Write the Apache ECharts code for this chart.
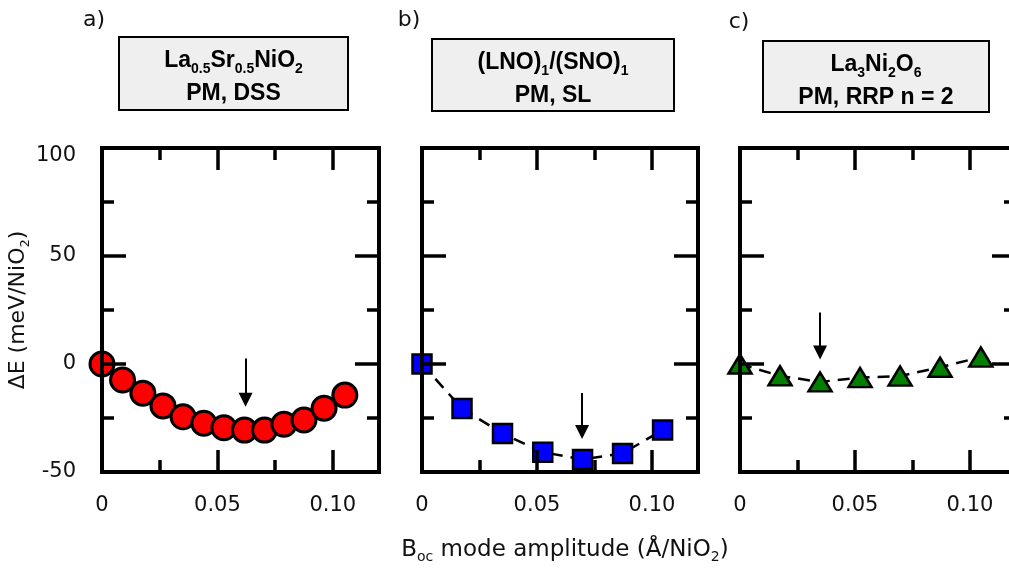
<!DOCTYPE html>
<html><head><meta charset="utf-8">
<script src="https://cdn.jsdelivr.net/npm/echarts@6/dist/echarts.min.js"></script>
<style>html,body{margin:0;padding:0;background:#fff}#c{width:1009px;height:568px}</style>
</head><body><div id="c"></div>
<script>
// ---- data ----
const ampA = [0, 0.0089, 0.0177, 0.0264, 0.0351, 0.0441, 0.0528, 0.0617, 0.0704, 0.0788, 0.0875, 0.0962, 0.1052];
const dEA  = [0, -7.4, -13.5, -19.4, -24.4, -27.4, -29.5, -30.6, -30.6, -27.9, -25.9, -20.5, -14.4];
const ampB = [0, 0.0174, 0.0350, 0.0525, 0.0698, 0.0872, 0.1046];
const dEB  = [0, -20.6, -32.2, -40.8, -44.2, -41.4, -30.6];
const ampC = [0, 0.0174, 0.0348, 0.0522, 0.0696, 0.0870, 0.1047];
const dEC  = [0, -5.5, -8.3, -6.3, -5.6, -1.5, 3.2];
const arrowX     = [0.0622, 0.0696, 0.0348];
const arrowStart = [2.5, -13.4, 23.9];
const arrowHead  = [-16.6, -31.5, 5.3];
const xTickMajor = [0, 0.05, 0.10];
const xTickMinor = [0.025, 0.075];
const yTickMajor = [-50, 0, 50, 100];
const yTickMinor = [-25, 25, 75];
const panelLetters = ['a)', 'b)', 'c)'];
const boxLine1 = ['{b|La}{s|0.5}{b|Sr}{s|0.5}{b|NiO}{s|2}', '{b|(LNO)}{s|1}{b|/(SNO)}{s|1}', '{b|La}{s|3}{b|Ni}{s|2}{b|O}{s|6}'];
const boxLine2 = ['PM, DSS', 'PM, SL', 'PM, RRP n = 2'];
const yName = '{a|ΔE (meV/NiO}{s|2}{a|)}';
const xName = '{a|B}{s|oc}{a| mode amplitude (Å/NiO}{s|2}{a|)}';

// ---- layout / style ----
const FONT = 'DejaVu Sans';
const BFONT = 'Liberation Sans';
const gridLeft = [102, 422, 740];
const gridWidth = [277, 276, 276];
const boxRect = [[119, 37, 229, 73], [432, 39, 242, 72], [763, 41, 226, 71]];
const letterPos = [[94, 20], [409, 20], [739, 22]];
const colors = ['#ff0000', '#0000ff', '#008000'];
const symbols = ['circle', 'rect', 'triangle'];
const symSizes = [24, 19, [23, 19]];
const ampList = [ampA, ampB, ampC];
const dEList = [dEA, dEB, dEC];

const xAxes = [], yAxes = [], grids = [], series = [];
function fmtX(v) { return v === 0 ? '0' : v.toFixed(2); }
function fmtY(v) { return v === 100 ? '{t|100}' : String(v); }
function mkX(gi, pos, ticks, len, main, labels) {
  return {
    type: 'value', gridIndex: gi, position: pos, min: 0, max: 0.12, interval: 0.05, z: 4,
    axisLine: { show: main, onZero: false, lineStyle: { color: '#000', width: 4, cap: 'square' } },
    axisTick: { show: true, inside: true, length: len, customValues: ticks, lineStyle: { color: '#000', width: 3.5 } },
    axisLabel: { show: labels, customValues: xTickMajor, formatter: fmtX, margin: 23, fontFamily: FONT, fontSize: 21, color: '#111' },
    splitLine: { show: false }
  };
}
function mkY(gi, pos, ticks, len, main, labels) {
  return {
    type: 'value', gridIndex: gi, position: pos, min: -50, max: 100, interval: 50, z: 4,
    axisLine: { show: main, onZero: false, lineStyle: { color: '#000', width: 4, cap: 'square' } },
    axisTick: { show: true, inside: true, length: len, customValues: ticks, lineStyle: { color: '#000', width: 3.5 } },
    axisLabel: { show: labels, customValues: yTickMajor, formatter: fmtY, margin: 26, fontFamily: FONT, fontSize: 21, color: '#111',
      rich: { t: { fontFamily: FONT, fontSize: 21, color: '#111', padding: [16, 0, 0, 0] } } },
    splitLine: { show: false }
  };
}
for (let g = 0; g < 3; g++) {
  grids.push({ left: gridLeft[g], width: gridWidth[g], top: 148, height: 324, show: false, containLabel: false, outerBoundsMode: 'none' });
  xAxes.push(mkX(g, 'bottom', xTickMajor, 22, true, true));
  xAxes.push(mkX(g, 'bottom', xTickMinor, 12, false, false));
  xAxes.push(mkX(g, 'top', xTickMajor, 22, true, false));
  xAxes.push(mkX(g, 'top', xTickMinor, 12, false, false));
  const yl = mkY(g, 'left', yTickMajor, 24, true, g === 0);
  if (g === 0) {
    yl.name = yName; yl.nameLocation = 'middle'; yl.nameGap = 53; yl.nameRotate = 90;
    yl.nameTextStyle = { color: '#111', rich: {
      a: { fontFamily: FONT, fontSize: 22, color: '#111', verticalAlign: 'middle', lineHeight: 28 },
      s: { fontFamily: FONT, fontSize: 13, color: '#111', verticalAlign: 'bottom', height: 14 } } };
  }
  yAxes.push(yl);
  yAxes.push(mkY(g, 'left', yTickMinor, 12, false, false));
  yAxes.push(mkY(g, 'right', yTickMajor, 24, true, false));
  yAxes.push(mkY(g, 'right', yTickMinor, 12, false, false));

  const amp = ampList[g], dE = dEList[g];
  series.push({
    type: 'line', xAxisIndex: g * 4, yAxisIndex: g * 4, clip: false, z: 2,
    data: amp.map((x, i) => [x, dE[i]]),
    symbol: symbols[g], symbolSize: symSizes[g], showAllSymbol: true,
    lineStyle: { color: '#000', width: 2.5, type: [12, 8] },
    itemStyle: { color: colors[g], borderColor: '#000', borderWidth: g === 0 ? 3 : 2.5 },
    emphasis: { disabled: true },
    markLine: {
      silent: true, animation: false, symbol: ['none', 'triangle'], symbolSize: 14,
      label: { show: false }, lineStyle: { color: '#000', width: 2, type: 'solid' },
      emphasis: { disabled: true },
      data: [[{ coord: [arrowX[g], arrowStart[g]] }, { coord: [arrowX[g], arrowHead[g]] }]]
    }
  });
}

const graphics = [];
for (let g = 0; g < 3; g++) {
  const r = boxRect[g];
  graphics.push({ type: 'rect', shape: { x: r[0], y: r[1], width: r[2], height: r[3] },
    style: { fill: '#efefef', stroke: '#000', lineWidth: 2 } });
  graphics.push({ type: 'text', x: r[0] + r[2] / 2, y: r[1] + 24,
    style: { text: boxLine1[g], align: 'center', verticalAlign: 'middle',
      rich: { b: { fontFamily: BFONT, fontWeight: 'bold', fontSize: 23, lineHeight: 26, verticalAlign: 'middle', fill: '#000' },
              s: { fontFamily: BFONT, fontWeight: 'bold', fontSize: 14, height: 10, verticalAlign: 'bottom', fill: '#000' } } } });
  graphics.push({ type: 'text', x: r[0] + r[2] / 2, y: r[1] + 57,
    style: { text: boxLine2[g], align: 'center', verticalAlign: 'middle',
      font: 'bold 23px "' + BFONT + '"', fill: '#000' } });
  graphics.push({ type: 'text', x: letterPos[g][0], y: letterPos[g][1],
    style: { text: panelLetters[g], align: 'center', verticalAlign: 'middle', font: '22px "' + FONT + '"', fill: '#111' } });
}
graphics.push({ type: 'text', x: 565, y: 550,
  style: { text: xName, align: 'center', verticalAlign: 'middle',
    rich: { a: { fontFamily: FONT, fontSize: 23, lineHeight: 28, verticalAlign: 'middle', fill: '#111' },
            s: { fontFamily: FONT, fontSize: 14, height: 14, verticalAlign: 'bottom', fill: '#111' } } } });

const chart = echarts.init(document.getElementById('c'), null, { renderer: 'canvas' });
chart.setOption({
  animation: false,
  backgroundColor: '#fff',
  grid: grids, xAxis: xAxes, yAxis: yAxes, series: series, graphic: graphics
});
</script></body></html>
